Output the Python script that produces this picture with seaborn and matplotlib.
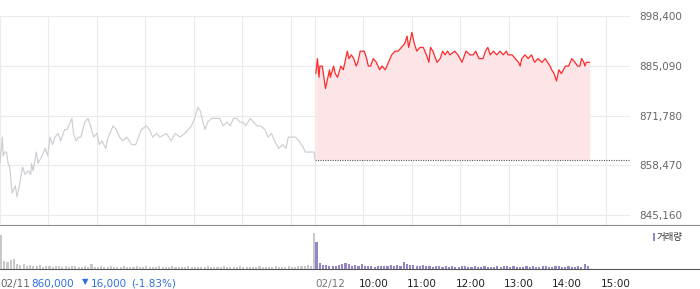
import numpy as np
import matplotlib
matplotlib.use("Agg")
import matplotlib.pyplot as plt
import matplotlib.transforms as mtransforms
from matplotlib.lines import Line2D
from matplotlib.patches import Rectangle
import seaborn as sns

sns.set_style("white")
plt.rcParams['font.family'] = ['DejaVu Sans', 'Noto Sans CJK KR']

# ---------------- data ----------------
# minutes counted from 09:00 of 02/11 ; 02/12 09:00 = minute 390
prev_close = 860000
y_ticks = [845160, 858470, 871780, 885090, 898400]

prev_min = [0, 3, 4, 6, 8, 10, 12, 15, 17, 19,
            21, 24, 28, 31, 35, 38, 39, 41, 45, 47,
            52, 56, 59, 62, 65, 68, 72, 75, 80, 83,
            87, 89, 91, 94, 97, 100, 105, 109, 112, 116,
            120, 123, 126, 131, 134, 140, 144, 148, 152, 157,
            163, 168, 175, 181, 185, 189, 194, 198, 206, 212,
            217, 223, 229, 233, 237, 241, 245, 248, 250, 254,
            257, 262, 266, 272, 276, 281, 285, 289, 293, 297,
            301, 304, 310, 314, 318, 323, 328, 332, 336, 340,
            345, 350, 354, 357, 362, 366, 370, 376, 378, 385,
            389, 390]
prev_price = [859000, 866000, 861000, 862000, 862000, 859000, 858000, 851000, 852000, 853000,
              850000, 853000, 858000, 856000, 857000, 856000, 859000, 857000, 862000, 859000,
              861000, 863000, 861000, 866000, 864000, 866000, 867000, 865000, 868000, 868000,
              870000, 871000, 867000, 865000, 866000, 866000, 870000, 871000, 869000, 866000,
              867000, 864000, 865000, 863000, 866000, 869000, 868000, 866000, 865000, 866000,
              864000, 864000, 868000, 869000, 868000, 866000, 867000, 866000, 867000, 865000,
              867000, 866000, 867000, 868000, 869000, 871000, 874000, 873000, 871000, 868000,
              870000, 871000, 871000, 871000, 869000, 870000, 869000, 871000, 871000, 870000,
              870000, 869000, 871000, 870000, 869000, 869000, 868000, 866000, 867000, 865000,
              863000, 864000, 863000, 866000, 866000, 866000, 865000, 863000, 862000, 862000,
              862000, 860000]

today_min = [391, 393, 395, 396, 399, 401, 403, 405, 408, 409,
             413, 415, 418, 422, 425, 428, 430, 432, 435, 438,
             441, 443, 446, 451, 454, 456, 459, 462, 466, 470,
             473, 477, 481, 485, 489, 493, 497, 501, 504, 506,
             510, 513, 516, 520, 524, 528, 531, 533, 536, 541,
             545, 548, 551, 554, 557, 563, 567, 572, 577, 582,
             586, 589, 593, 598, 601, 604, 607, 611, 615, 619,
             623, 627, 629, 634, 638, 642, 644, 646, 650, 654,
             658, 662, 666, 671, 675, 678, 681, 683, 686, 689,
             692, 695, 700, 704, 708, 712, 715, 718, 720, 723,
             724, 726, 730]
today_price = [883000, 887000, 882000, 885000, 885000, 882000, 879000, 881000, 884000, 882000,
               885000, 883000, 882000, 885000, 884000, 887000, 889000, 887000, 888000, 887000,
               885000, 886000, 889000, 889000, 887000, 885000, 885000, 887000, 886000, 884000,
               885000, 884000, 886000, 888000, 889000, 889000, 890000, 891000, 893000, 890000,
               894000, 891000, 889000, 890000, 890000, 888000, 886000, 890000, 889000, 886000,
               887000, 889000, 888000, 889000, 888000, 889000, 888000, 886000, 889000, 888000,
               888000, 889000, 887000, 887000, 889000, 890000, 888000, 889000, 888000, 889000,
               888000, 889000, 888000, 888000, 887000, 886000, 885000, 887000, 888000, 887000,
               888000, 886000, 887000, 886000, 887000, 886000, 885000, 884000, 883000, 881000,
               884000, 883000, 885000, 885000, 887000, 886000, 885000, 885000, 887000, 886000,
               885000, 886000, 886000]

# volume (thousand shares) in 4-minute bins
vol_bin = 4
vol_prev = [34, 8, 7, 9, 10, 5, 4, 5, 3, 4,
            3, 3, 4, 2, 3, 3, 2, 3, 3, 2,
            3, 2, 3, 3, 2, 2, 3, 2, 5, 2,
            2, 3, 2, 2, 3, 2, 2, 2, 3, 2,
            2, 2, 3, 2, 2, 3, 2, 2, 2, 3,
            2, 2, 2, 3, 2, 2, 2, 2, 3, 2,
            2, 2, 2, 2, 3, 2, 2, 2, 2, 3,
            2, 2, 2, 2, 3, 2, 2, 2, 2, 2,
            3, 2, 2, 2, 2, 3, 2, 2, 2, 3,
            2, 2, 3, 3, 3, 4, 3, 36]
vol_today = [27, 6, 4, 4, 3, 3, 3, 4, 5, 6,
             5, 3, 4, 3, 5, 3, 3, 3, 2, 3,
             3, 3, 3, 4, 3, 4, 3, 7, 5, 4,
             4, 3, 3, 4, 3, 3, 2, 3, 3, 2,
             3, 2, 3, 2, 2, 3, 3, 2, 2, 3,
             2, 2, 3, 2, 2, 2, 3, 2, 3, 3,
             2, 3, 2, 2, 2, 3, 2, 3, 2, 2,
             3, 3, 2, 2, 3, 3, 2, 2, 3, 2,
             2, 3, 2, 5, 3]

grid_minutes = [0, 60, 120, 180, 240, 300, 360, 390, 450, 510, 570, 630, 690, 750]
label_ticks = [0, 390, 450, 510, 570, 630, 690, 750]
hour_labels = ["10:00", "11:00", "12:00", "13:00", "14:00", "15:00"]

# ---------------- layout ----------------
W, H = 700, 289
fig = plt.figure(figsize=(7.0, 2.89), dpi=100)
fig.patch.set_facecolor('white')


def fx(px):
    return px / W


def fy(py):
    return 1 - py / H


ax = fig.add_axes([0, fy(225), fx(630), (225 - 16) / H])
axv = fig.add_axes([0, fy(268.5), fx(630), (268.5 - 226) / H])

# ---------------- price panel ----------------
ax.fill_between(today_min, today_price, prev_close, color='#fde4e6', lw=0, zorder=1)
sns.lineplot(x=prev_min, y=prev_price, ax=ax, color='#cbced2', lw=0.85, zorder=3)
sns.lineplot(x=today_min, y=today_price, ax=ax, color='#ff2a2a', lw=0.9, zorder=4)
ax.hlines(prev_close, 390, 780, colors='#555555', linestyles=(0, (1, 1.2)), lw=0.8, zorder=2)

ax.set_xlim(0, 780)
ax.set_ylim(842485, 898400)
ax.set_xticks(grid_minutes)
ax.set_yticks(y_ticks)
ax.set_yticklabels([f"{v:,}" for v in y_ticks])
ax.grid(True, color='#ebebeb', lw=0.8)
ax.set_axisbelow(True)
ax.yaxis.tick_right()
ax.tick_params(axis='x', length=0, labelbottom=False)
ax.tick_params(axis='y', length=0, pad=6.5, labelsize=7.5, labelcolor='#666666')
ax.set_xlabel('')
ax.set_ylabel('')
for s in ax.spines.values():
    s.set_visible(False)

# ---------------- volume panel ----------------
x_prev = np.arange(len(vol_prev)) * vol_bin
x_today = 390.5 + np.arange(len(vol_today)) * vol_bin
axv.bar(x_prev, vol_prev, width=2.6, align='edge', color='#c8c8c8', lw=0)
axv.bar(x_today, vol_today, width=2.6, align='edge', color='#9584c8', lw=0)
axv.set_xlim(0, 780)
axv.set_ylim(0, 42.5)
axv.set_yticks([])
axv.set_xticks(label_ticks)
axv.tick_params(axis='x', length=4, width=0.8, color='#555555', labelbottom=False, direction='out')
for s in axv.spines.values():
    s.set_visible(False)

# separator / axis lines across full width
fig.add_artist(Line2D([0, 1], [fy(225.2), fy(225.2)], transform=fig.transFigure,
                      color='#8c8c8c', lw=0.8))
fig.add_artist(Line2D([0, 1], [fy(268.8), fy(268.8)], transform=fig.transFigure,
                      color='#555555', lw=0.8))

# ---------------- bottom labels ----------------
base_y = fy(287)
trans = mtransforms.blended_transform_factory(axv.transData, fig.transFigure)
fs = 7.5
fig.text(fx(0), base_y, "02/11", fontsize=fs, color='#666666', va='baseline', ha='left')
fig.text(fx(31.5), base_y, "860,000", fontsize=fs, color='#2c6fe0', va='baseline', ha='left')
fig.text(fx(81.5), fy(281.8), "▼", fontsize=6, color='#2c6fe0', va='center', ha='left')
fig.text(fx(91), base_y, "16,000", fontsize=fs, color='#2c6fe0', va='baseline', ha='left')
fig.text(fx(131.5), base_y, "(-1.83%)", fontsize=fs, color='#2c6fe0', va='baseline', ha='left')

axv.text(label_ticks[1], base_y, "02/12", transform=trans, fontsize=fs, color='#777777',
         va='baseline', ha='left')
t_off = mtransforms.offset_copy(trans, fig=fig, x=-5, y=0, units='dots')
for m, lab in zip(label_ticks[2:], hour_labels):
    axv.text(m, base_y, lab, transform=t_off, fontsize=fs, color='#222222',
             va='baseline', ha='left')

# ---------------- legend ----------------
fig.add_artist(Rectangle((fx(652.8), fy(241)), 2.5 / W, 8 / H, transform=fig.transFigure,
                         color='#9584c8', lw=0))
fig.text(fx(657), fy(237.5), "거래량", fontsize=6.8, color='#333333', va='center', ha='left',
         family=['Noto Sans CJK KR', 'DejaVu Sans'])

fig.savefig('out.png', dpi=100, facecolor='white')
